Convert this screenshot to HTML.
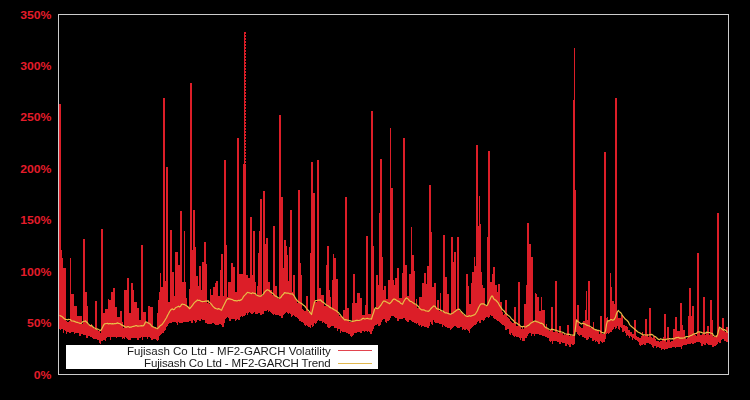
<!DOCTYPE html>
<html><head><meta charset="utf-8"><title>MF2-GARCH Volatility</title>
<style>
html,body{margin:0;padding:0;background:#000;}
body{width:750px;height:400px;position:relative;overflow:hidden;font-family:"Liberation Sans",sans-serif;}
svg{position:absolute;left:0;top:0;}
.yl{position:absolute;left:0;width:51.4px;text-align:right;color:#e41c2a;font-weight:bold;font-size:11.3px;line-height:14px;height:14px;transform:scaleX(1.08);transform-origin:right center;}
.leg{position:absolute;left:66px;top:345px;width:312px;height:24px;background:#fff;}
.lt{will-change:transform;position:absolute;right:47.3px;color:#1a1a1a;font-size:11.5px;line-height:13px;white-space:nowrap;}
</style></head><body>
<svg width="750" height="400" viewBox="0 0 750 400" shape-rendering="crispEdges">
<rect x="0" y="0" width="750" height="400" fill="#000"/>
<path d="M59 104v225h1v-225zM60 104v226h1v-226zM61 250v79h1v-79zM62 258v71h1v-71zM63 268v65h1v-65zM64 268v62h1v-62zM65 268v63h1v-63zM66 321v13h1v-13zM67 322v10h1v-10zM68 322v10h1v-10zM69 321v12h1v-12zM70 258v75h1v-75zM71 294v38h1v-38zM72 294v38h1v-38zM73 294v38h1v-38zM74 306v28h1v-28zM75 306v27h1v-27zM76 306v27h1v-27zM77 316v17h1v-17zM78 316v17h1v-17zM79 316v20h1v-20zM80 316v20h1v-20zM81 316v18h1v-18zM82 324v10h1v-10zM83 239v96h1v-96zM84 239v96h1v-96zM85 292v43h1v-43zM86 292v46h1v-46zM87 306v32h1v-32zM88 325v11h1v-11zM89 325v11h1v-11zM90 326v11h1v-11zM91 324v13h1v-13zM92 327v11h1v-11zM93 327v12h1v-12zM94 329v10h1v-10zM95 301v38h1v-38zM96 301v38h1v-38zM97 330v10h1v-10zM98 331v9h1v-9zM99 330v13h1v-13zM100 333v11h1v-11zM101 229v112h1v-112zM102 229v112h1v-112zM103 313v27h1v-27zM104 313v27h1v-27zM105 309v32h1v-32zM106 309v29h1v-29zM107 309v28h1v-28zM108 299v38h1v-38zM109 300v37h1v-37zM110 300v40h1v-40zM111 292v45h1v-45zM112 292v45h1v-45zM113 288v49h1v-49zM114 288v49h1v-49zM115 307v30h1v-30zM116 307v31h1v-31zM117 317v20h1v-20zM118 317v20h1v-20zM119 317v20h1v-20zM120 311v26h1v-26zM121 311v26h1v-26zM122 322v17h1v-17zM123 328v10h1v-10zM124 290v49h1v-49zM125 290v47h1v-47zM126 290v48h1v-48zM127 278v61h1v-61zM128 278v62h1v-62zM129 313v27h1v-27zM130 313v27h1v-27zM131 283v55h1v-55zM132 283v55h1v-55zM133 290v48h1v-48zM134 302v36h1v-36zM135 302v36h1v-36zM136 302v36h1v-36zM137 308v32h1v-32zM138 308v32h1v-32zM139 320v18h1v-18zM140 320v18h1v-18zM141 245v92h1v-92zM142 245v95h1v-95zM143 312v25h1v-25zM144 312v25h1v-25zM145 312v25h1v-25zM146 322v15h1v-15zM147 323v16h1v-16zM148 306v31h1v-31zM149 306v31h1v-31zM150 307v31h1v-31zM151 307v33h1v-33zM152 307v33h1v-33zM153 327v12h1v-12zM154 328v11h1v-11zM155 327v12h1v-12zM156 329v11h1v-11zM157 313v28h1v-28zM158 300v40h1v-40zM159 292v44h1v-44zM160 273v62h1v-62zM161 287v47h1v-47zM162 287v46h1v-46zM163 98v235h1v-235zM164 98v233h1v-233zM165 281v49h1v-49zM166 167v160h1v-160zM167 167v159h1v-159zM168 302v22h1v-22zM169 302v21h1v-21zM170 230v93h1v-93zM171 230v93h1v-93zM172 272v50h1v-50zM173 272v50h1v-50zM174 296v26h1v-26zM175 252v70h1v-70zM176 252v71h1v-71zM177 252v73h1v-73zM178 265v57h1v-57zM179 265v58h1v-58zM180 211v112h1v-112zM181 211v112h1v-112zM182 282v41h1v-41zM183 282v40h1v-40zM184 231v91h1v-91zM185 282v40h1v-40zM186 298v24h1v-24zM187 306v16h1v-16zM188 308v14h1v-14zM189 289v32h1v-32zM190 83v238h1v-238zM191 83v240h1v-240zM192 250v73h1v-73zM193 210v110h1v-110zM194 210v111h1v-111zM195 247v76h1v-76zM196 276v46h1v-46zM197 276v44h1v-44zM198 286v34h1v-34zM199 266v55h1v-55zM200 266v55h1v-55zM201 290v29h1v-29zM202 262v58h1v-58zM203 262v58h1v-58zM204 242v78h1v-78zM205 242v81h1v-81zM206 264v59h1v-59zM207 303v21h1v-21zM208 300v24h1v-24zM209 304v20h1v-20zM210 289v35h1v-35zM211 295v29h1v-29zM212 295v28h1v-28zM213 287v36h1v-36zM214 287v37h1v-37zM215 283v42h1v-42zM216 281v44h1v-44zM217 281v44h1v-44zM218 296v29h1v-29zM219 296v28h1v-28zM220 270v54h1v-54zM221 254v71h1v-71zM222 254v73h1v-73zM223 296v31h1v-31zM224 160v163h1v-163zM225 160v159h1v-159zM226 245v73h1v-73zM227 297v20h1v-20zM228 282v36h1v-36zM229 282v39h1v-39zM230 282v39h1v-39zM231 263v56h1v-56zM232 263v56h1v-56zM233 267v52h1v-52zM234 267v52h1v-52zM235 292v29h1v-29zM236 292v28h1v-28zM237 138v181h1v-181zM238 138v182h1v-182zM239 274v46h1v-46zM240 274v43h1v-43zM241 274v42h1v-42zM242 274v43h1v-43zM243 164v152h1v-152zM244 32v284h1v-284zM245 164v151h1v-151zM246 275v38h1v-38zM247 275v40h1v-40zM248 278v35h1v-35zM249 278v34h1v-34zM250 217v96h1v-96zM251 217v97h1v-97zM252 275v39h1v-39zM253 231v82h1v-82zM254 231v81h1v-81zM255 282v32h1v-32zM256 296v18h1v-18zM257 286v28h1v-28zM258 253v60h1v-60zM259 231v82h1v-82zM260 199v116h1v-116zM261 199v116h1v-116zM262 296v18h1v-18zM263 191v123h1v-123zM264 191v120h1v-120zM265 244v67h1v-67zM266 238v73h1v-73zM267 238v72h1v-72zM268 282v30h1v-30zM269 282v29h1v-29zM270 290v22h1v-22zM271 290v23h1v-23zM272 295v19h1v-19zM273 226v89h1v-89zM274 226v88h1v-88zM275 286v29h1v-29zM276 286v29h1v-29zM277 298v17h1v-17zM278 299v16h1v-16zM279 115v201h1v-201zM280 115v201h1v-201zM281 197v121h1v-121zM282 197v121h1v-121zM283 268v47h1v-47zM284 240v74h1v-74zM285 240v73h1v-73zM286 246v66h1v-66zM287 255v58h1v-58zM288 281v33h1v-33zM289 247v66h1v-66zM290 210v104h1v-104zM291 210v107h1v-107zM292 292v24h1v-24zM293 275v40h1v-40zM294 275v41h1v-41zM295 299v18h1v-18zM296 300v17h1v-17zM297 303v15h1v-15zM298 190v129h1v-129zM299 190v131h1v-131zM300 263v58h1v-58zM301 275v47h1v-47zM302 309v13h1v-13zM303 310v13h1v-13zM304 311v14h1v-14zM305 311v15h1v-15zM306 296v29h1v-29zM307 296v30h1v-30zM308 312v15h1v-15zM309 311v16h1v-16zM310 253v75h1v-75zM311 162v163h1v-163zM312 162v165h1v-165zM313 193v133h1v-133zM314 193v130h1v-130zM315 302v22h1v-22zM316 302v21h1v-21zM317 160v161h1v-161zM318 160v160h1v-160zM319 288v33h1v-33zM320 288v33h1v-33zM321 295v26h1v-26zM322 295v28h1v-28zM323 295v27h1v-27zM324 306v17h1v-17zM325 306v18h1v-18zM326 265v59h1v-59zM327 246v81h1v-81zM328 246v82h1v-82zM329 290v38h1v-38zM330 297v30h1v-30zM331 309v17h1v-17zM332 280v46h1v-46zM333 254v72h1v-72zM334 258v70h1v-70zM335 258v70h1v-70zM336 279v49h1v-49zM337 279v52h1v-52zM338 314v15h1v-15zM339 316v13h1v-13zM340 316v17h1v-17zM341 317v14h1v-14zM342 318v14h1v-14zM343 310v22h1v-22zM344 310v22h1v-22zM345 197v135h1v-135zM346 197v136h1v-136zM347 308v25h1v-25zM348 308v26h1v-26zM349 322v12h1v-12zM350 322v14h1v-14zM351 322v15h1v-15zM352 303v33h1v-33zM353 274v61h1v-61zM354 274v59h1v-59zM355 303v30h1v-30zM356 303v30h1v-30zM357 293v39h1v-39zM358 293v39h1v-39zM359 293v39h1v-39zM360 298v35h1v-35zM361 298v35h1v-35zM362 315v16h1v-16zM363 315v16h1v-16zM364 315v17h1v-17zM365 305v26h1v-26zM366 236v95h1v-95zM367 236v96h1v-96zM368 314v17h1v-17zM369 314v18h1v-18zM370 314v20h1v-20zM371 111v223h1v-223zM372 111v220h1v-220zM373 246v83h1v-83zM374 309v17h1v-17zM375 309v16h1v-16zM376 275v50h1v-50zM377 275v49h1v-49zM378 285v41h1v-41zM379 213v113h1v-113zM380 159v166h1v-166zM381 159v163h1v-163zM382 257v63h1v-63zM383 290v29h1v-29zM384 286v33h1v-33zM385 286v36h1v-36zM386 299v24h1v-24zM387 299v22h1v-22zM388 280v41h1v-41zM389 280v40h1v-40zM390 128v190h1v-190zM391 188v128h1v-128zM392 188v128h1v-128zM393 280v36h1v-36zM394 285v32h1v-32zM395 278v40h1v-40zM396 278v40h1v-40zM397 268v53h1v-53zM398 268v53h1v-53zM399 298v21h1v-21zM400 298v21h1v-21zM401 298v21h1v-21zM402 273v46h1v-46zM403 138v180h1v-180zM404 138v180h1v-180zM405 265v55h1v-55zM406 265v56h1v-56zM407 296v26h1v-26zM408 296v26h1v-26zM409 274v46h1v-46zM410 274v46h1v-46zM411 227v94h1v-94zM412 255v67h1v-67zM413 255v67h1v-67zM414 271v52h1v-52zM415 305v18h1v-18zM416 299v25h1v-25zM417 308v15h1v-15zM418 308v17h1v-17zM419 297v29h1v-29zM420 297v28h1v-28zM421 297v30h1v-30zM422 283v43h1v-43zM423 283v43h1v-43zM424 273v54h1v-54zM425 273v54h1v-54zM426 284v43h1v-43zM427 266v62h1v-62zM428 266v62h1v-62zM429 185v141h1v-141zM430 185v137h1v-137zM431 232v92h1v-92zM432 287v38h1v-38zM433 287v33h1v-33zM434 283v39h1v-39zM435 283v40h1v-40zM436 308v15h1v-15zM437 300v23h1v-23zM438 300v23h1v-23zM439 311v13h1v-13zM440 293v31h1v-31zM441 311v13h1v-13zM442 312v15h1v-15zM443 235v90h1v-90zM444 235v91h1v-91zM445 277v50h1v-50zM446 277v50h1v-50zM447 294v34h1v-34zM448 294v34h1v-34zM449 314v14h1v-14zM450 314v16h1v-16zM451 237v92h1v-92zM452 237v91h1v-91zM453 262v65h1v-65zM454 252v74h1v-74zM455 252v74h1v-74zM456 309v18h1v-18zM457 237v91h1v-91zM458 237v91h1v-91zM459 311v17h1v-17zM460 312v15h1v-15zM461 311v16h1v-16zM462 313v17h1v-17zM463 315v14h1v-14zM464 315v15h1v-15zM465 316v14h1v-14zM466 274v55h1v-55zM467 274v56h1v-56zM468 286v45h1v-45zM469 304v29h1v-29zM470 304v25h1v-25zM471 283v45h1v-45zM472 272v55h1v-55zM473 272v54h1v-54zM474 257v68h1v-68zM475 266v59h1v-59zM476 145v179h1v-179zM477 145v177h1v-177zM478 226v95h1v-95zM479 196v127h1v-127zM480 224v99h1v-99zM481 272v48h1v-48zM482 285v35h1v-35zM483 288v33h1v-33zM484 288v32h1v-32zM485 306v12h1v-12zM486 306v11h1v-11zM487 237v80h1v-80zM488 151v167h1v-167zM489 151v166h1v-166zM490 282v33h1v-33zM491 282v34h1v-34zM492 274v42h1v-42zM493 267v51h1v-51zM494 267v52h1v-52zM495 285v34h1v-34zM496 285v35h1v-35zM497 292v29h1v-29zM498 284v37h1v-37zM499 284v38h1v-38zM500 302v21h1v-21zM501 302v22h1v-22zM502 312v13h1v-13zM503 315v10h1v-10zM504 314v12h1v-12zM505 300v30h1v-30zM506 300v30h1v-30zM507 317v12h1v-12zM508 318v11h1v-11zM509 319v15h1v-15zM510 321v14h1v-14zM511 322v11h1v-11zM512 323v12h1v-12zM513 323v13h1v-13zM514 307v30h1v-30zM515 307v29h1v-29zM516 326v11h1v-11zM517 326v11h1v-11zM518 282v55h1v-55zM519 282v56h1v-56zM520 327v13h1v-13zM521 329v9h1v-9zM522 326v15h1v-15zM523 329v12h1v-12zM524 304v37h1v-37zM525 304v34h1v-34zM526 285v53h1v-53zM527 223v113h1v-113zM528 223v111h1v-111zM529 244v89h1v-89zM530 244v89h1v-89zM531 257v79h1v-79zM532 257v77h1v-77zM533 322v12h1v-12zM534 322v14h1v-14zM535 293v41h1v-41zM536 294v40h1v-40zM537 297v37h1v-37zM538 297v37h1v-37zM539 311v24h1v-24zM540 311v24h1v-24zM541 297v38h1v-38zM542 310v26h1v-26zM543 310v26h1v-26zM544 310v26h1v-26zM545 327v10h1v-10zM546 324v13h1v-13zM547 329v9h1v-9zM548 330v8h1v-8zM549 331v10h1v-10zM550 330v12h1v-12zM551 307v34h1v-34zM552 307v37h1v-37zM553 332v9h1v-9zM554 332v9h1v-9zM555 281v60h1v-60zM556 281v60h1v-60zM557 332v10h1v-10zM558 333v9h1v-9zM559 326v18h1v-18zM560 326v18h1v-18zM561 333v9h1v-9zM562 333v10h1v-10zM563 335v8h1v-8zM564 334v9h1v-9zM565 335v11h1v-11zM566 334v12h1v-12zM567 325v19h1v-19zM568 325v20h1v-20zM569 336v11h1v-11zM570 335v12h1v-12zM571 336v8h1v-8zM572 336v9h1v-9zM573 100v245h1v-245zM574 48v296h1v-296zM575 190v142h1v-142zM576 320v12h1v-12zM577 305v29h1v-29zM578 305v30h1v-30zM579 326v10h1v-10zM580 327v8h1v-8zM581 328v7h1v-7zM582 328v9h1v-9zM583 321v16h1v-16zM584 321v17h1v-17zM585 310v28h1v-28zM586 291v49h1v-49zM587 320v20h1v-20zM588 281v58h1v-58zM589 281v56h1v-56zM590 328v10h1v-10zM591 327v11h1v-11zM592 328v13h1v-13zM593 322v19h1v-19zM594 330v10h1v-10zM595 329v13h1v-13zM596 330v11h1v-11zM597 331v11h1v-11zM598 331v13h1v-13zM599 334v10h1v-10zM600 316v25h1v-25zM601 316v26h1v-26zM602 334v9h1v-9zM603 334v8h1v-8zM604 152v190h1v-190zM605 152v187h1v-187zM606 318v16h1v-16zM607 317v16h1v-16zM608 320v14h1v-14zM609 321v12h1v-12zM610 273v59h1v-59zM611 287v45h1v-45zM612 301v29h1v-29zM613 301v28h1v-28zM614 304v23h1v-23zM615 98v231h1v-231zM616 98v230h1v-230zM617 312v14h1v-14zM618 318v11h1v-11zM619 318v12h1v-12zM620 318v9h1v-9zM621 315v13h1v-13zM622 315v17h1v-17zM623 325v7h1v-7zM624 325v6h1v-6zM625 326v7h1v-7zM626 326v10h1v-10zM627 327v8h1v-8zM628 330v6h1v-6zM629 330v8h1v-8zM630 332v4h1v-4zM631 332v5h1v-5zM632 334v6h1v-6zM633 334v4h1v-4zM634 320v19h1v-19zM635 320v20h1v-20zM636 336v4h1v-4zM637 337v4h1v-4zM638 337v5h1v-5zM639 338v7h1v-7zM640 338v8h1v-8zM641 336v9h1v-9zM642 332v13h1v-13zM643 335v9h1v-9zM644 336v9h1v-9zM645 319v26h1v-26zM646 319v24h1v-24zM647 334v9h1v-9zM648 337v6h1v-6zM649 308v36h1v-36zM650 308v36h1v-36zM651 337v8h1v-8zM652 338v9h1v-9zM653 336v12h1v-12zM654 337v9h1v-9zM655 339v7h1v-7zM656 341v7h1v-7zM657 341v6h1v-6zM658 341v6h1v-6zM659 342v6h1v-6zM660 341v7h1v-7zM661 341v9h1v-9zM662 340v9h1v-9zM663 337v12h1v-12zM664 314v36h1v-36zM665 314v35h1v-35zM666 342v7h1v-7zM667 327v22h1v-22zM668 327v21h1v-21zM669 340v8h1v-8zM670 342v6h1v-6zM671 341v7h1v-7zM672 341v6h1v-6zM673 329v18h1v-18zM674 329v18h1v-18zM675 317v31h1v-31zM676 317v30h1v-30zM677 331v16h1v-16zM678 331v16h1v-16zM679 331v16h1v-16zM680 303v44h1v-44zM681 303v46h1v-46zM682 325v21h1v-21zM683 330v15h1v-15zM684 330v15h1v-15zM685 338v7h1v-7zM686 339v6h1v-6zM687 338v6h1v-6zM688 316v28h1v-28zM689 288v56h1v-56zM690 288v56h1v-56zM691 316v27h1v-27zM692 306v38h1v-38zM693 306v38h1v-38zM694 333v10h1v-10zM695 335v8h1v-8zM696 336v6h1v-6zM697 253v89h1v-89zM698 253v89h1v-89zM699 332v10h1v-10zM700 335v8h1v-8zM701 335v11h1v-11zM702 334v12h1v-12zM703 297v47h1v-47zM704 297v48h1v-48zM705 335v10h1v-10zM706 333v10h1v-10zM707 326v18h1v-18zM708 326v19h1v-19zM709 335v10h1v-10zM710 300v45h1v-45zM711 300v45h1v-45zM712 320v27h1v-27zM713 337v10h1v-10zM714 336v10h1v-10zM715 337v9h1v-9zM716 335v10h1v-10zM717 213v131h1v-131zM718 213v129h1v-129zM719 327v16h1v-16zM720 329v14h1v-14zM721 329v11h1v-11zM722 318v21h1v-21zM723 318v21h1v-21zM724 331v10h1v-10zM725 332v9h1v-9zM726 327v15h1v-15zM727 327v15h1v-15z" fill="#dc1e28"/>
<rect x="245" y="32" width="1" height="2" fill="#dc1e28"/><rect x="245" y="35" width="1" height="2" fill="#dc1e28"/><rect x="245" y="38" width="1" height="2" fill="#dc1e28"/><rect x="245" y="41" width="1" height="2" fill="#dc1e28"/><rect x="245" y="44" width="1" height="2" fill="#dc1e28"/><rect x="245" y="47" width="1" height="2" fill="#dc1e28"/><rect x="245" y="50" width="1" height="2" fill="#dc1e28"/><rect x="245" y="53" width="1" height="2" fill="#dc1e28"/><rect x="245" y="56" width="1" height="2" fill="#dc1e28"/><rect x="245" y="59" width="1" height="2" fill="#dc1e28"/><rect x="245" y="62" width="1" height="2" fill="#dc1e28"/><rect x="245" y="65" width="1" height="2" fill="#dc1e28"/><rect x="245" y="68" width="1" height="2" fill="#dc1e28"/><rect x="245" y="71" width="1" height="2" fill="#dc1e28"/><rect x="245" y="74" width="1" height="2" fill="#dc1e28"/><rect x="245" y="77" width="1" height="2" fill="#dc1e28"/><rect x="245" y="80" width="1" height="2" fill="#dc1e28"/><rect x="245" y="83" width="1" height="2" fill="#dc1e28"/><rect x="245" y="86" width="1" height="2" fill="#dc1e28"/><rect x="245" y="89" width="1" height="2" fill="#dc1e28"/><rect x="245" y="92" width="1" height="2" fill="#dc1e28"/><rect x="245" y="95" width="1" height="2" fill="#dc1e28"/><rect x="245" y="98" width="1" height="2" fill="#dc1e28"/><rect x="245" y="101" width="1" height="2" fill="#dc1e28"/><rect x="245" y="104" width="1" height="2" fill="#dc1e28"/><rect x="245" y="107" width="1" height="2" fill="#dc1e28"/><rect x="245" y="110" width="1" height="2" fill="#dc1e28"/><rect x="245" y="113" width="1" height="2" fill="#dc1e28"/><rect x="245" y="116" width="1" height="2" fill="#dc1e28"/><rect x="245" y="119" width="1" height="2" fill="#dc1e28"/><rect x="245" y="122" width="1" height="2" fill="#dc1e28"/><rect x="245" y="125" width="1" height="2" fill="#dc1e28"/><rect x="245" y="128" width="1" height="2" fill="#dc1e28"/><rect x="245" y="131" width="1" height="2" fill="#dc1e28"/><rect x="245" y="134" width="1" height="2" fill="#dc1e28"/><rect x="245" y="137" width="1" height="2" fill="#dc1e28"/><rect x="245" y="140" width="1" height="2" fill="#dc1e28"/><rect x="245" y="143" width="1" height="2" fill="#dc1e28"/><rect x="245" y="146" width="1" height="2" fill="#dc1e28"/><rect x="245" y="149" width="1" height="2" fill="#dc1e28"/><rect x="245" y="152" width="1" height="2" fill="#dc1e28"/><rect x="245" y="155" width="1" height="2" fill="#dc1e28"/><rect x="245" y="158" width="1" height="2" fill="#dc1e28"/><rect x="245" y="161" width="1" height="2" fill="#dc1e28"/>
<polyline points="59.5,315.3 60.5,315.9 61.5,316.2 62.5,316.9 63.5,318.1 64.5,318.8 65.5,319.4 66.5,319.5 67.5,319.9 68.5,319.4 69.5,319.5 70.5,319.6 71.5,321.0 72.5,321.0 73.5,321.1 74.5,321.4 75.5,321.9 76.5,322.3 77.5,322.4 78.5,322.8 79.5,323.1 80.5,323.5 81.5,323.2 82.5,321.8 83.5,321.5 84.5,321.2 85.5,320.9 86.5,322.0 87.5,322.8 88.5,324.1 89.5,325.0 90.5,325.8 91.5,325.6 92.5,326.3 93.5,327.5 94.5,328.0 95.5,328.6 96.5,329.2 97.5,328.9 98.5,329.5 99.5,330.0 100.5,330.6 101.5,329.5 102.5,327.4 103.5,325.3 104.5,323.8 105.5,323.7 106.5,323.5 107.5,323.4 108.5,323.9 109.5,323.7 110.5,323.6 111.5,323.8 112.5,323.6 113.5,323.8 114.5,323.7 115.5,323.6 116.5,323.4 117.5,322.9 118.5,323.4 119.5,323.5 120.5,324.0 121.5,324.9 122.5,325.4 123.5,325.9 124.5,326.4 125.5,327.2 126.5,327.1 127.5,326.7 128.5,326.6 129.5,327.4 130.5,327.2 131.5,327.1 132.5,326.5 133.5,326.3 134.5,326.2 135.5,325.7 136.5,325.5 137.5,326.2 138.5,326.1 139.5,326.0 140.5,325.8 141.5,325.7 142.5,325.9 143.5,325.7 144.5,324.3 145.5,321.9 146.5,322.0 147.5,322.6 148.5,323.0 149.5,323.7 150.5,324.3 151.5,325.9 152.5,326.6 153.5,327.0 154.5,327.5 155.5,327.9 156.5,328.3 157.5,328.7 158.5,327.7 159.5,326.5 160.5,325.4 161.5,325.0 162.5,323.8 163.5,322.5 164.5,321.0 165.5,319.3 166.5,317.7 167.5,315.5 168.5,313.8 169.5,311.8 170.5,310.2 171.5,309.3 172.5,308.9 173.5,309.7 174.5,309.3 175.5,307.7 176.5,307.3 177.5,306.8 178.5,306.2 179.5,306.9 180.5,306.3 181.5,304.6 182.5,304.0 183.5,304.5 184.5,304.5 185.5,305.3 186.5,305.7 187.5,306.5 188.5,307.3 189.5,308.7 190.5,307.8 191.5,306.5 192.5,305.4 193.5,303.7 194.5,302.6 195.5,301.6 196.5,301.0 197.5,299.9 198.5,300.5 199.5,300.3 200.5,300.9 201.5,301.5 202.5,301.7 203.5,301.5 204.5,301.4 205.5,301.2 206.5,301.1 207.5,300.9 208.5,301.3 209.5,302.3 210.5,303.4 211.5,304.3 212.5,305.9 213.5,306.9 214.5,307.9 215.5,308.4 216.5,308.8 217.5,309.1 218.5,308.6 219.5,309.0 220.5,309.8 221.5,310.2 222.5,308.1 223.5,306.1 224.5,304.0 225.5,302.0 226.5,299.9 227.5,299.0 228.5,298.6 229.5,298.8 230.5,299.1 231.5,299.4 232.5,299.6 233.5,300.4 234.5,300.6 235.5,300.6 236.5,300.9 237.5,300.8 238.5,300.3 239.5,300.6 240.5,300.1 241.5,299.6 242.5,298.6 243.5,296.6 244.5,295.4 245.5,294.6 246.5,293.4 247.5,292.3 248.5,292.6 249.5,292.8 250.5,293.3 251.5,293.6 252.5,292.8 253.5,293.1 254.5,293.3 255.5,293.6 256.5,295.2 257.5,295.5 258.5,295.9 259.5,296.2 260.5,296.2 261.5,295.8 262.5,294.9 263.5,293.9 264.5,292.1 265.5,291.1 266.5,290.2 267.5,289.7 268.5,290.2 269.5,290.8 270.5,292.0 271.5,292.6 272.5,293.3 273.5,294.0 274.5,295.4 275.5,296.2 276.5,296.4 277.5,297.2 278.5,298.0 279.5,298.1 280.5,297.8 281.5,296.3 282.5,294.9 283.5,294.2 284.5,292.7 285.5,292.9 286.5,293.1 287.5,293.0 288.5,293.2 289.5,293.6 290.5,293.8 291.5,294.0 292.5,293.8 293.5,295.2 294.5,296.5 295.5,298.4 296.5,299.7 297.5,301.0 298.5,301.7 299.5,302.4 300.5,303.0 301.5,303.6 302.5,304.3 303.5,305.2 304.5,305.8 305.5,307.0 306.5,308.5 307.5,309.8 308.5,310.5 309.5,311.8 310.5,313.2 311.5,314.5 312.5,310.1 313.5,306.2 314.5,302.2 315.5,300.5 316.5,300.5 317.5,300.3 318.5,300.0 319.5,300.2 320.5,299.9 321.5,301.0 322.5,302.0 323.5,302.4 324.5,303.4 325.5,304.2 326.5,305.0 327.5,305.5 328.5,306.0 329.5,307.1 330.5,307.6 331.5,308.1 332.5,308.7 333.5,309.3 334.5,310.0 335.5,310.3 336.5,311.0 337.5,311.9 338.5,312.6 339.5,313.9 340.5,315.0 341.5,316.4 342.5,317.5 343.5,318.6 344.5,319.8 345.5,319.7 346.5,319.9 347.5,320.2 348.5,320.4 349.5,320.6 350.5,320.9 351.5,321.2 352.5,321.4 353.5,321.2 354.5,321.0 355.5,320.6 356.5,320.4 357.5,320.3 358.5,320.5 359.5,320.3 360.5,320.0 361.5,319.7 362.5,318.5 363.5,318.3 364.5,319.0 365.5,318.8 366.5,318.5 367.5,318.4 368.5,318.7 369.5,319.0 370.5,318.8 371.5,319.1 372.5,315.5 373.5,312.9 374.5,309.3 375.5,307.7 376.5,308.4 377.5,308.6 378.5,308.2 379.5,306.9 380.5,305.6 381.5,304.3 382.5,302.5 383.5,301.2 384.5,301.1 385.5,301.4 386.5,302.0 387.5,302.6 388.5,303.0 389.5,303.7 390.5,302.8 391.5,301.9 392.5,300.1 393.5,299.2 394.5,299.0 395.5,299.5 396.5,300.3 397.5,300.9 398.5,301.4 399.5,301.9 400.5,303.2 401.5,303.7 402.5,304.2 403.5,302.0 404.5,300.3 405.5,298.7 406.5,297.9 407.5,298.6 408.5,299.4 409.5,300.8 410.5,301.5 411.5,301.6 412.5,302.4 413.5,303.1 414.5,303.9 415.5,304.0 416.5,304.8 417.5,305.7 418.5,306.5 419.5,308.1 420.5,309.0 421.5,309.8 422.5,309.8 423.5,309.9 424.5,310.1 425.5,310.9 426.5,311.0 427.5,311.2 428.5,311.3 429.5,310.5 430.5,309.2 431.5,308.0 432.5,307.1 433.5,306.0 434.5,306.1 435.5,306.7 436.5,308.5 437.5,309.1 438.5,308.9 439.5,309.5 440.5,310.1 441.5,310.6 442.5,311.0 443.5,311.4 444.5,312.5 445.5,312.9 446.5,312.8 447.5,313.2 448.5,313.6 449.5,313.9 450.5,314.3 451.5,313.7 452.5,313.2 453.5,312.7 454.5,311.7 455.5,311.2 456.5,310.2 457.5,309.7 458.5,309.1 459.5,309.4 460.5,310.9 461.5,311.9 462.5,312.9 463.5,313.9 464.5,314.7 465.5,315.7 466.5,316.2 467.5,316.5 468.5,316.1 469.5,315.7 470.5,316.3 471.5,315.9 472.5,315.5 473.5,315.1 474.5,314.8 475.5,313.8 476.5,312.2 477.5,310.5 478.5,307.7 479.5,306.0 480.5,304.3 481.5,303.9 482.5,303.8 483.5,303.8 484.5,304.4 485.5,305.1 486.5,305.7 487.5,305.0 488.5,302.8 489.5,300.5 490.5,298.3 491.5,296.2 492.5,296.0 493.5,298.5 494.5,299.6 495.5,299.9 496.5,301.0 497.5,302.2 498.5,303.4 499.5,305.4 500.5,306.8 501.5,308.3 502.5,309.8 503.5,310.4 504.5,311.5 505.5,313.3 506.5,314.0 507.5,314.8 508.5,315.8 509.5,316.2 510.5,317.5 511.5,318.9 512.5,319.7 513.5,320.5 514.5,322.2 515.5,323.0 516.5,322.9 517.5,323.7 518.5,324.6 519.5,324.9 520.5,326.3 521.5,326.6 522.5,327.0 523.5,326.3 524.5,326.7 525.5,327.0 526.5,326.7 527.5,325.7 528.5,325.5 529.5,324.4 530.5,323.3 531.5,322.7 532.5,322.2 533.5,321.6 534.5,321.1 535.5,321.1 536.5,321.6 537.5,321.8 538.5,322.3 539.5,322.8 540.5,323.3 541.5,323.2 542.5,323.8 543.5,324.5 544.5,326.5 545.5,327.2 546.5,327.9 547.5,328.3 548.5,329.0 549.5,329.7 550.5,330.0 551.5,329.2 552.5,329.4 553.5,329.6 554.5,329.9 555.5,330.1 556.5,330.3 557.5,331.0 558.5,331.2 559.5,331.5 560.5,331.7 561.5,332.0 562.5,332.3 563.5,332.6 564.5,333.5 565.5,333.8 566.5,334.0 567.5,334.3 568.5,334.1 569.5,334.4 570.5,334.7 571.5,335.0 572.5,335.2 573.5,335.1 574.5,335.4 575.5,327.5 576.5,319.8 577.5,321.3 578.5,322.0 579.5,322.6 580.5,323.5 581.5,324.1 582.5,323.2 583.5,323.5 584.5,323.9 585.5,324.2 586.5,325.1 587.5,325.4 588.5,325.7 589.5,326.0 590.5,326.8 591.5,327.2 592.5,327.8 593.5,328.7 594.5,329.2 595.5,329.8 596.5,329.8 597.5,330.4 598.5,330.3 599.5,330.8 600.5,331.3 601.5,332.3 602.5,332.6 603.5,332.9 604.5,333.2 605.5,330.8 606.5,324.3 607.5,320.9 608.5,320.8 609.5,320.6 610.5,319.7 611.5,319.5 612.5,320.2 613.5,320.0 614.5,319.0 615.5,317.0 616.5,313.6 617.5,311.5 618.5,310.5 619.5,312.0 620.5,312.4 621.5,313.8 622.5,315.7 623.5,316.9 624.5,318.1 625.5,319.3 626.5,319.9 627.5,321.0 628.5,322.2 629.5,324.6 630.5,325.6 631.5,326.5 632.5,327.4 633.5,328.1 634.5,329.0 635.5,329.9 636.5,330.8 637.5,331.7 638.5,332.3 639.5,332.7 640.5,333.3 641.5,333.9 642.5,334.5 643.5,334.9 644.5,334.9 645.5,335.0 646.5,335.0 647.5,335.1 648.5,335.0 649.5,334.7 650.5,334.7 651.5,334.4 652.5,334.7 653.5,335.6 654.5,336.4 655.5,336.8 656.5,337.7 657.5,338.5 658.5,339.5 659.5,339.7 660.5,338.8 661.5,339.1 662.5,339.3 663.5,339.5 664.5,339.9 665.5,339.8 666.5,339.2 667.5,339.0 668.5,338.9 669.5,338.7 670.5,338.9 671.5,338.8 672.5,338.6 673.5,338.8 674.5,338.6 675.5,337.9 676.5,337.7 677.5,337.5 678.5,337.3 679.5,338.2 680.5,338.1 681.5,338.2 682.5,338.1 683.5,338.0 684.5,338.0 685.5,336.8 686.5,336.7 687.5,336.6 688.5,336.8 689.5,336.3 690.5,335.5 691.5,335.5 692.5,334.7 693.5,334.1 694.5,334.0 695.5,333.5 696.5,333.3 697.5,332.1 698.5,331.9 699.5,331.8 700.5,332.2 701.5,332.3 702.5,333.0 703.5,333.1 704.5,333.2 705.5,333.2 706.5,332.2 707.5,332.3 708.5,332.5 709.5,332.6 710.5,333.0 711.5,333.3 712.5,333.6 713.5,335.7 714.5,336.0 715.5,336.3 716.5,336.6 717.5,334.7 718.5,330.7 719.5,327.2 720.5,327.9 721.5,328.6 722.5,329.4 723.5,330.2 724.5,329.5 725.5,330.3 726.5,331.0 727.5,332.8" fill="none" stroke="#e8be48" stroke-width="1.2" shape-rendering="geometricPrecision" stroke-linejoin="round"/>
<rect x="58.5" y="14.5" width="670" height="360" fill="none" stroke="#cccccc" stroke-width="1"/>
</svg>
<div class="yl" style="top:368px">0%</div><div class="yl" style="top:316px">50%</div><div class="yl" style="top:265px">100%</div><div class="yl" style="top:213px">150%</div><div class="yl" style="top:162px">200%</div><div class="yl" style="top:110px">250%</div><div class="yl" style="top:59px">300%</div><div class="yl" style="top:8px">350%</div>
<div class="leg">
<div class="lt" style="top:-0.5px">Fujisash Co Ltd - MF2-GARCH Volatility</div>
<div class="lt" style="top:12px;letter-spacing:-0.14px">Fujisash Co Ltd - MF2-GARCH Trend</div>
<svg width="312" height="24" style="left:0;top:0" shape-rendering="crispEdges"><rect x="272" y="5" width="34" height="1" fill="#e2444e"/><rect x="272" y="18" width="34" height="1" fill="#e2b84e"/></svg>
</div>
</body></html>
